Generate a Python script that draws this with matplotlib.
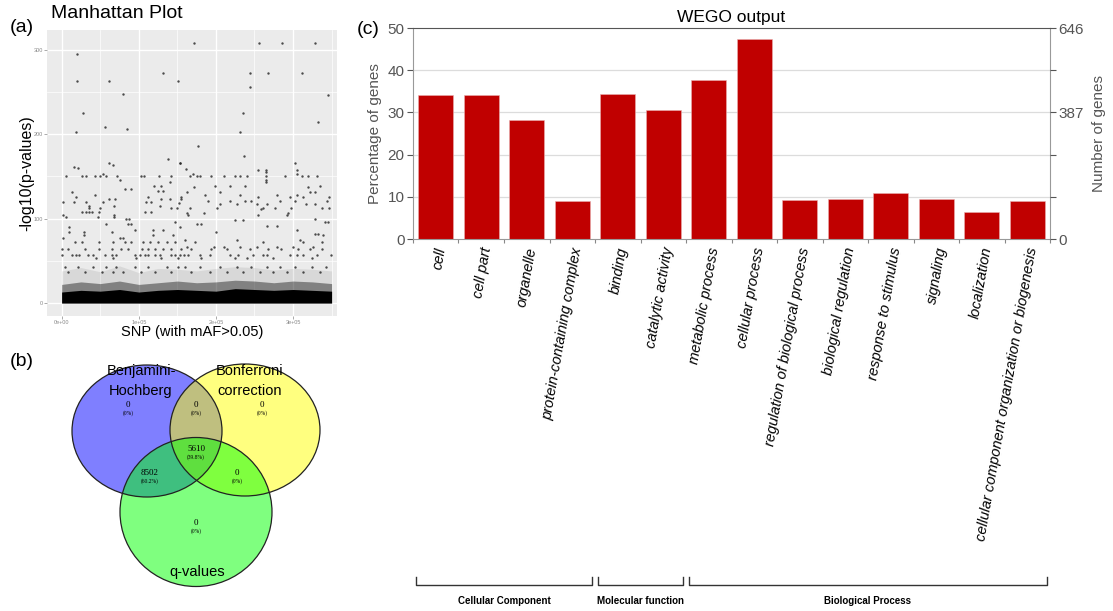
import numpy as np
import matplotlib
matplotlib.use("Agg")
import matplotlib.pyplot as plt
from matplotlib.patches import Ellipse

plt.rcParams['font.family'] = ['Liberation Sans', 'DejaVu Sans']

# ---------------- (a) Manhattan plot data (x in units of 1e5 SNP index) ----------------
hit_rows_y = [308, 295, 272, 263, 256, 248, 246, 225, 215, 208, 206, 202, 186, 174, 170,
              166, 163, 161, 160, 159, 158, 157, 155, 153, 151, 146, 143, 139, 137, 135,
              133, 131, 128, 125, 123, 121, 120, 118, 117, 115, 113, 111, 108, 107, 104,
              102, 100, 98, 96, 94, 91, 90, 86, 84, 82, 80, 77, 75, 72, 66, 64, 57, 53, 43, 37]
hit_rows_x = [
    [1.71, 2.56, 2.86, 3.28],
    [0.20],
    [1.32, 2.44, 2.68, 3.11],
    [0.20, 0.62, 1.51],
    [2.44],
    [0.80],
    [3.45],
    [0.28, 2.35],
    [3.33],
    [0.56],
    [0.85],
    [0.19, 2.31],
    [1.77],
    [2.37],
    [1.38],
    [0.62, 1.54, 1.53, 3.02],
    [0.66],
    [0.16],
    [0.21],
    [1.61],
    [3.05, 2.65],
    [2.55],
    [2.65],
    [0.54, 1.70, 3.05],
    [0.06, 0.26, 0.31, 0.43, 0.50, 0.58, 0.72, 1.03, 1.07, 1.26, 1.42, 1.66, 1.75, 1.79,
     1.93, 2.10, 2.25, 2.31, 2.40, 2.65, 2.90, 3.11, 3.20, 3.31],
    [0.75, 2.65],
    [1.40, 2.65],
    [1.20, 1.29, 1.99, 2.18, 2.38, 3.35],
    [1.71, 3.19],
    [0.82, 0.90],
    [1.25, 1.32],
    [0.13, 1.62, 2.05, 3.22, 3.29],
    [0.43, 1.86, 2.31, 2.79, 3.05],
    [0.18, 1.12, 1.55, 2.55, 2.96, 3.13, 3.47],
    [0.62, 0.69, 1.29, 1.40, 1.55],
    [1.90, 2.18, 2.38, 2.46, 2.83, 3.02, 3.44],
    [0.02, 0.16, 0.32, 0.54, 1.10, 1.16],
    [1.52],
    [2.05, 2.27, 2.53, 2.66, 3.17, 3.28],
    [0.36, 0.68, 1.27],
    [0.35, 0.50, 1.42, 1.49, 1.66, 2.01, 2.61, 2.77, 2.98, 3.37, 3.46],
    [2.59],
    [0.26, 0.31, 0.35, 0.39, 0.49, 1.08, 1.16],
    [1.62, 1.84, 2.94],
    [0.02, 0.68, 1.64, 2.55, 2.92],
    [0.05, 0.68, 0.47],
    [0.84, 0.87, 3.29],
    [2.25, 2.35],
    [1.47, 3.41, 3.45],
    [0.57, 0.86, 0.90, 1.75, 1.81],
    [2.66, 2.79],
    [0.09, 1.54],
    [0.95, 1.19, 1.32, 3.05],
    [0.09, 0.65, 0.29, 2.00],
    [3.29, 3.33],
    [0.29, 1.19, 1.45, 3.39],
    [0.02, 0.75, 0.80],
    [1.60, 2.27, 3.09],
    [0.17, 0.26, 0.49, 0.67, 0.82, 0.90, 1.06, 1.14, 1.25, 1.36, 1.47, 1.73, 2.61, 3.13, 3.37],
    [1.62, 1.97, 2.10, 2.31, 2.53, 2.79, 3.00, 3.26],
    [0.01, 0.08, 0.30, 0.49, 0.65, 0.77, 0.86, 1.04, 1.12, 1.21, 1.32, 1.42, 1.55, 1.68,
     1.94, 2.14, 2.44, 2.68, 2.85, 3.07, 3.22, 3.37],
    [0.00, 0.13, 0.19, 0.23, 0.34, 0.41, 0.56, 0.65, 0.71, 0.95, 1.01, 1.08, 1.12, 1.21,
     1.27, 1.42, 1.47, 1.53, 1.58, 1.64, 1.79, 1.92, 2.18, 2.29, 2.48, 2.61, 2.66, 2.96,
     3.05, 3.13, 3.31, 3.49],
    [0.45, 0.67, 0.97, 1.29, 1.51, 1.81, 2.25, 2.40, 2.74, 3.24],
    [0.04, 0.21, 0.41, 0.58, 0.71, 0.95, 1.12, 1.36, 1.51, 1.60, 1.79, 2.05, 2.27, 2.46,
     2.66, 2.83, 3.03, 3.24, 3.43],
    [0.08, 0.30, 0.52, 0.67, 0.80, 1.03, 1.21, 1.42, 1.68, 1.92, 2.14, 2.35, 2.57, 2.74,
     2.92, 3.13, 3.35],
]
# envelope of the saturated band of low p-value points
band_x = [0.0, 0.25, 0.5, 0.75, 1.0, 1.25, 1.5, 1.75, 2.0, 2.25, 2.5, 2.75, 3.0, 3.25, 3.5]
band_dense = [13, 15, 14, 16, 13, 15, 16, 15, 14, 17, 16, 15, 16, 15, 14]
band_mid = [22, 25, 23, 26, 22, 24, 26, 24, 25, 27, 26, 24, 26, 25, 23]
band_sparse = [38, 42, 37, 44, 36, 41, 40, 38, 41, 43, 42, 39, 41, 40, 38]

# ---------------- (b) Venn counts ----------------
venn_regions = ['BH', 'Bonf', 'q', 'BH&Bonf', 'BH&q', 'Bonf&q', 'all']
venn_counts = [0, 0, 0, 0, 8502, 0, 5610]
venn_sets = ['Benjamini-\nHochberg', 'Bonferroni\ncorrection', 'q-values']

# ---------------- (c) WEGO data ----------------
go_terms = ['cell', 'cell part', 'organelle', 'protein-containing complex',
            'binding', 'catalytic activity',
            'metabolic process', 'cellular process', 'regulation of biological process',
            'biological regulation', 'response to stimulus', 'signaling', 'localization',
            'cellular component organization or biogenesis']
go_percent = [34.1, 34.1, 28.3, 9.0, 34.4, 30.6, 37.6, 47.5, 9.3, 9.5, 10.8, 9.5, 6.4, 9.0]
go_groups = ['Cellular Component', 'Molecular function', 'Biological Process']
go_group_sizes = [4, 2, 8]
right_labels = ['0', '', '', '387', '', '646']

W, H = 1113, 611
fig = plt.figure(figsize=(W / 100, H / 100), dpi=100)


def fx(px):
    return px / W


def fy(py):
    return 1 - py / H


# ================= (a) =================
axm = fig.add_axes([fx(47), fy(316), 290 / W, 286 / H])
axm.set_facecolor('#ebebeb')
axm.set_xlim(-0.19, 3.57)
axm.set_ylim(-15.4, 323.4)
for v in [0.5, 1.5, 2.5, 3.5]:
    axm.axvline(v, color='white', lw=0.5, zorder=0)
for v in [50, 150, 250]:
    axm.axhline(v, color='white', lw=0.5, zorder=0)
for v in [0, 1, 2, 3]:
    axm.axvline(v, color='white', lw=1.0, zorder=0)
for v in [0, 100, 200, 300]:
    axm.axhline(v, color='white', lw=1.0, zorder=0)

axm.fill_between(band_x, 0, band_sparse, color='black', alpha=0.08, lw=0, zorder=1)
axm.fill_between(band_x, 0, band_mid, color='black', alpha=0.4, lw=0, zorder=1)
axm.fill_between(band_x, 0, band_dense, color='black', alpha=1.0, lw=0, zorder=1)

hx = np.concatenate([np.array(r) for r in hit_rows_x])
hy = np.concatenate([np.full(len(r), y) for r, y in zip(hit_rows_x, hit_rows_y)])
axm.scatter(hx, hy, s=3, color='#222222', alpha=0.8, lw=0, zorder=2)

axm.set_xticks([0, 1, 2, 3])
axm.set_xticklabels(['0e+00', '1e+05', '2e+05', '3e+05'])
axm.set_yticks([0, 100, 200, 300])
axm.tick_params(labelsize=4, colors='#888888', length=2, width=0.5, pad=1)
for s in axm.spines.values():
    s.set_visible(False)
axm.set_xlabel('SNP (with mAF>0.05)', fontsize=10.5)
axm.xaxis.set_label_coords(0.5, (316 - 325) / 286)
axm.set_ylabel('-log10(p-values)', fontsize=11.5)
axm.yaxis.set_label_coords((34 - 47) / 290, 0.5)
fig.text(fx(10), fy(27), '(a)', fontsize=14, va='center', ha='left')
fig.text(fx(51), fy(14), 'Manhattan Plot', fontsize=14, va='center', ha='left')

# ================= (b) =================
axv = fig.add_axes([0, 0, fx(345), fy(340)])
axv.set_xlim(0, 345)
axv.set_ylim(611, 340)
axv.axis('off')
circles = [((147, 431), 150, 132, 'blue'),
           ((245, 430), 150, 132, 'yellow'),
           ((196, 512), 152, 149, 'lime')]
for (c, w, h, col) in circles:
    axv.add_patch(Ellipse(c, w, h, facecolor=col, alpha=0.5, edgecolor='none'))
for (c, w, h, col) in circles:
    axv.add_patch(Ellipse(c, w, h, facecolor='none', edgecolor='#222222', lw=0.9))

set_label_pos = [(141, 381), (250, 381), (197, 572)]
for lab, (x, y) in zip(venn_sets, set_label_pos):
    axv.text(x, y, lab, fontsize=10.5, ha='center', va='center', linespacing=1.6)

total = sum(venn_counts)
region_pos = [(128, 405), (262, 405), (196, 523), (196, 405), (150, 473), (237, 473), (196, 449)]
for cnt, (x, y) in zip(venn_counts, region_pos):
    pct = '(0%)' if cnt == 0 else '(%.1f%%)' % (100 * cnt / total)
    axv.text(x, y, str(cnt), fontsize=6.5, family='Liberation Serif', ha='center', va='center')
    axv.text(x, y + 8, pct, fontsize=4, family='Liberation Serif', ha='center', va='center')
fig.text(fx(10), fy(362), '(b)', fontsize=14, va='center', ha='left')

# ================= (c) =================
axb = fig.add_axes([fx(413), fy(239), (1050 - 413) / W, 211 / H])
n = len(go_terms)
pos = np.arange(n)
axb.bar(pos, go_percent, width=0.76, color='#c00000', edgecolor='#e8b0b0', lw=0.4, zorder=2)
axb.set_xlim(-0.5, n - 0.5)
axb.set_ylim(0, 50)
axb.set_yticks([0, 10, 20, 30, 40, 50])
for v in [10, 20, 30, 40]:
    axb.axhline(v, color='#dcdcdc', lw=0.9, zorder=0)
axb.tick_params(axis='y', labelsize=11, colors='#555555', length=4, width=0.8, pad=2)
axb.set_xticks(np.arange(-0.5, n), labels=[''] * (n + 1))
axb.tick_params(axis='x', which='major', length=3, width=0.8, color='#888888')
axb.set_xticks(pos + 0.12, labels=go_terms, minor=True)
axb.tick_params(axis='x', which='minor', length=0, pad=6)
for lbl in axb.get_xticklabels(minor=True):
    lbl.set_rotation(80)
    lbl.set_rotation_mode('anchor')
    lbl.set_ha('right')
    lbl.set_va('center')
    lbl.set_fontstyle('italic')
    lbl.set_fontsize(10.5)
axb.spines['top'].set_color('#555555')
axb.spines['left'].set_color('#999999')
axb.spines['right'].set_color('#999999')
axb.spines['bottom'].set_color('#999999')
axb.set_ylabel('Percentage of genes', fontsize=11, color='#555555', labelpad=4)
axb.set_title('WEGO output', fontsize=12.5, pad=4)

ax2 = axb.twinx()
ax2.set_ylim(0, 50)
ax2.set_yticks([0, 10, 20, 30, 40, 50])
ax2.set_yticklabels(right_labels)
ax2.tick_params(axis='y', labelsize=11, colors='#555555', length=4, width=0.8, pad=2)
for s in ax2.spines.values():
    s.set_visible(False)
ax2.set_ylabel('Number of genes', fontsize=11, color='#555555', labelpad=6)

# group brackets below the tick labels
tr = axb.get_xaxis_transform()
y_line = (239 - 585) / 211
y_tip = (239 - 577) / 211
y_txt = (239 - 601) / 211
start = 0
for g, size in zip(go_groups, go_group_sizes):
    x0 = start - 0.5 + 0.06
    x1 = start + size - 0.5 - 0.06
    axb.plot([x0, x0, x1, x1], [y_tip, y_line, y_line, y_tip], transform=tr,
             color='#333333', lw=1.0, clip_on=False)
    axb.text((x0 + x1) / 2, y_txt, g, transform=tr, ha='center', va='center',
             fontsize=7, fontweight='bold')
    start += size

fig.text(fx(357), fy(30), '(c)', fontsize=14, va='center', ha='left')

fig.savefig('out.png', dpi=100)
